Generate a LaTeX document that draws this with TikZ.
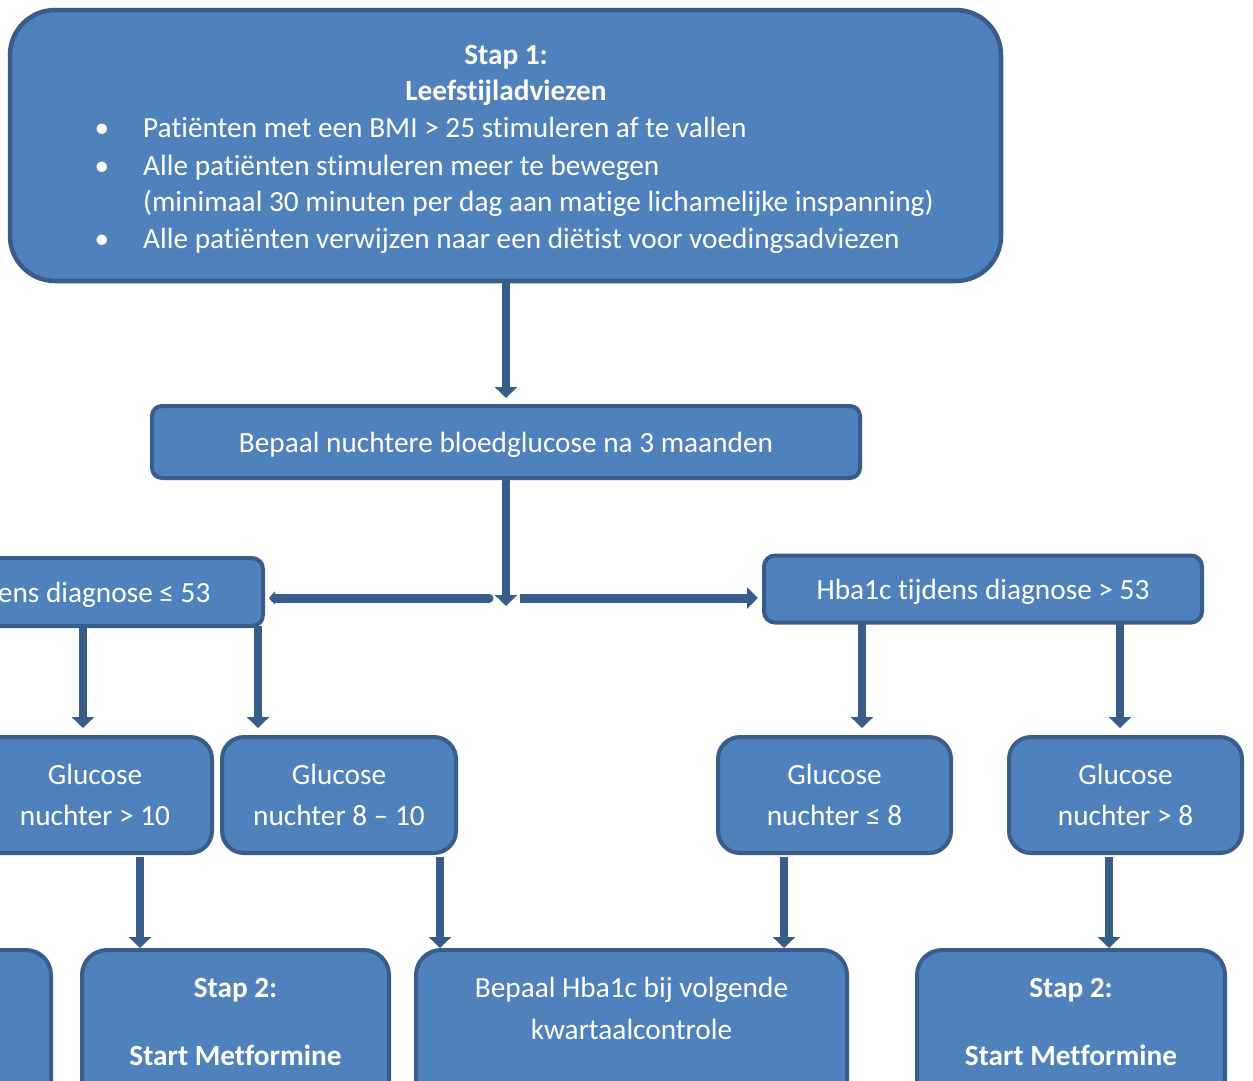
\documentclass[tikz,border=0pt]{standalone}
\usepackage{fontspec}
\setmainfont{Carlito}[Ligatures={TeX,NoCommon}]
\usetikzlibrary{arrows.meta,calc}
\definecolor{fillblue}{HTML}{4F81BD}
\definecolor{edgeblue}{HTML}{385D8A}
\newcommand{\mainfs}{\fontsize{29.3}{41}\selectfont}
\begin{document}
\begin{tikzpicture}[x=1pt,y=-1pt,
  box/.style={draw=edgeblue, fill=fillblue, line width=4pt, inner sep=0pt, outer sep=0pt,
              text=white, align=center, font=\mainfs},
  txt/.style={text=white, inner sep=0pt, anchor=base, font=\mainfs},
  btxt/.style={txt, font=\mainfs\bfseries},
  arr/.style={draw=edgeblue, line width=8.5pt, -{Triangle[width=22pt,length=11pt]}},
  harr/.style={draw=edgeblue, line width=9pt, -{Triangle[width=21pt,length=11pt]}},
  sarr/.style={draw=edgeblue, line width=9pt, line cap=round, -{Triangle[width=13pt,length=6pt]}},
]
\useasboundingbox (0,0) rectangle (1253,1080);
\clip (0,0) rectangle (1253,1080);
\fill[white] (0,0) rectangle (1253,1080);

% boxes
\node[box, line width=4.5pt, minimum width=991pt, minimum height=271pt, rounded corners=45pt] (top) at (505.5,145.5) {};
\node[box, text depth=0pt, minimum width=708pt, minimum height=72pt, rounded corners=10pt] (bep) at (506,442) {Bepaal nuchtere bloedglucose na 3 maanden};
\node[box, text depth=0pt, minimum width=438pt, minimum height=68pt, rounded corners=11pt] (hl) at (44,592) {Hba1c tijdens diagnose ≤ 53};
\node[box, text depth=0pt, minimum width=438pt, minimum height=67pt, rounded corners=11pt] (hr) at (983,589) {Hba1c tijdens diagnose > 53};

\node[box, minimum width=234pt, minimum height=116pt, rounded corners=22pt] (g1) at (95,795) {Glucose\\nuchter > 10};
\node[box, minimum width=234pt, minimum height=116pt, rounded corners=22pt] (g2) at (339,795) {Glucose\\nuchter 8 – 10};
\node[box, minimum width=233pt, minimum height=116pt, rounded corners=22pt] (g3) at (834.5,795) {Glucose\\nuchter ≤ 8};
\node[box, minimum width=233pt, minimum height=116pt, rounded corners=22pt] (g4) at (1125.5,795) {Glucose\\nuchter > 8};

\node[box, minimum width=307pt, minimum height=170pt, rounded corners=25pt] (b0) at (-102.5,1035) {};
\node[box, minimum width=307pt, minimum height=170pt, rounded corners=25pt] (s2l) at (235.5,1035) {};
\node[box, minimum width=431pt, minimum height=170pt, rounded corners=25pt] (bh) at (631.5,1035) {};
\node[box, minimum width=308pt, minimum height=170pt, rounded corners=25pt] (s2r) at (1071,1035) {};

% top box text
\node[btxt] (t1) at (506,64) {Stap 1:};
\node[btxt] (t2) at (506,100) {Leefstijladviezen};
\node[txt] (d1) at (102,137) {•};
\node[txt, anchor=base west] (l1) at (143,137) {Patiënten met een BMI > 25 stimuleren af te vallen};
\node[txt] (d2) at (102,175) {•};
\node[txt, anchor=base west] (l2) at (143,175) {Alle patiënten stimuleren meer te bewegen};
\node[txt, anchor=base west] (l3) at (143,211) {(minimaal 30 minuten per dag aan matige lichamelijke inspanning)};
\node[txt] (d3) at (102,248) {•};
\node[txt, anchor=base west] (l4) at (143,248) {Alle patiënten verwijzen naar een diëtist voor voedingsadviezen};

% bottom texts
\node[btxt] (s2la) at (235.5,997) {Stap 2:};
\node[btxt] (s2lb) at (235.5,1065) {Start Metformine};
\node[txt] (bha) at (631.5,997) {Bepaal Hba1c bij volgende};
\node[txt] (bhb) at (631.5,1039) {kwartaalcontrole};
\node[btxt] (s2ra) at (1071,997) {Stap 2:};
\node[btxt] (s2rb) at (1071,1065) {Start Metformine};

% connectors
\coordinate (split) at (506,606);
\coordinate (lstart) at (489,598);
\coordinate (rstart) at (520,598);

\draw[arr] (bep.north |- top.south) -- ($(bep.north)+(0,-8)$);
\draw[arr] (bep.south) -- (split);
\draw[sarr] (lstart) -- ($(hl.east |- lstart)+(6,0)$);
\draw[harr] (rstart) -- ($(hr.west |- rstart)+(-6,0)$);

\draw[arr] ($(hl.south)+(39,0)$) -- ($(g1.north)+(-12,-9)$);
\draw[arr] ($(hl.south)+(214,0)$) -- ($(g2.north)+(-81,-9)$);
\draw[arr] ($(hr.south)+(-121,0)$) -- ($(g3.north)+(27.5,-9)$);
\draw[arr] ($(hr.south)+(137,0)$) -- ($(g4.north)+(-5.5,-9)$);

\draw[arr] ($(g1.south)+(45,4)$) -- ($(s2l.north)+(-95.5,-2)$);
\draw[arr] ($(g2.south)+(101,4)$) -- ($(bh.north)+(-191.5,-2)$);
\draw[arr] ($(g3.south)+(-50.5,4)$) -- ($(bh.north)+(152.5,-2)$);
\draw[arr] ($(g4.south)+(-16.5,4)$) -- ($(s2r.north)+(38,-2)$);
\end{tikzpicture}
\end{document}
